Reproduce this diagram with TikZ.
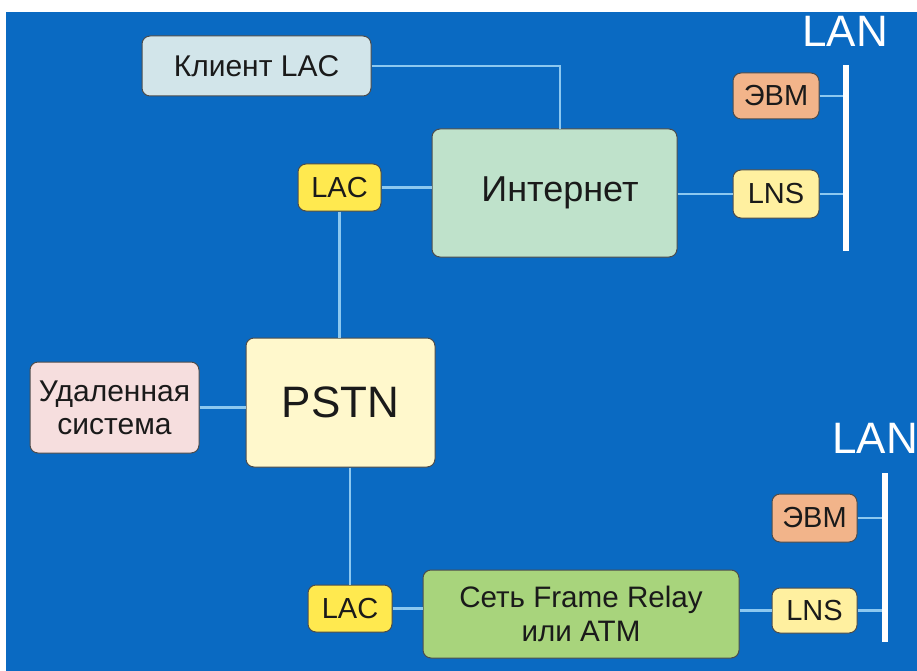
\documentclass[tikz,border=0pt]{standalone}
\usepackage{fontspec}
\setmainfont{Liberation Sans}
\definecolor{bgblue}{HTML}{0A6AC2}
\definecolor{wire}{HTML}{8CC8F0}
\definecolor{cKlient}{HTML}{D2E5EA}
\definecolor{cLAC}{HTML}{FFE94F}
\definecolor{cInet}{HTML}{BFE2CB}
\definecolor{cEVM}{HTML}{F2B48A}
\definecolor{cLNS}{HTML}{FFF0A0}
\definecolor{cUdal}{HTML}{F6DEDE}
\definecolor{cPSTN}{HTML}{FFF8CC}
\definecolor{cFR}{HTML}{A8D47C}
\definecolor{txt}{HTML}{1A1A1A}
\begin{document}
\begin{tikzpicture}[x=1pt,y=-1pt,
  box/.style={draw=black!70,line width=1pt,rounded corners=8pt,text=txt,align=center,inner sep=0pt,
     font=\fontsize{29}{33}\selectfont},
  wirel/.style={draw=wire,line width=2.5pt},
  lanbar/.style={draw=white,line width=6pt},
  lantxt/.style={text=white,font=\fontsize{44}{44}\selectfont,inner sep=0pt}]
\useasboundingbox (0,0) rectangle (917,671);
\fill[white] (0,0) rectangle (917,671);
\fill[bgblue] (6,12) rectangle (917,671);

\node[box,fill=cKlient,minimum width=229pt,minimum height=60pt,font=\fontsize{30}{30}\selectfont] (klient) at (256.5,66) {Клиент LAC};
\node[box,fill=cLAC,minimum width=83pt,minimum height=47pt] (lac1) at (339.5,187.5) {LAC};
\node[box,fill=cInet,minimum width=245pt,minimum height=128pt,font=\fontsize{36}{36}\selectfont] (inet) at (554.5,193) {\hspace*{11pt}Интернет};
\node[box,fill=cEVM,minimum width=86pt,minimum height=46pt] (evm1) at (776,96) {ЭВМ};
\node[box,fill=cLNS,minimum width=86pt,minimum height=48pt] (lns1) at (776,194) {LNS};
\node[box,fill=cUdal,minimum width=169pt,minimum height=91pt,font=\fontsize{30}{33}\selectfont] (udal) at (114.5,407.5) {Удаленная\\система};
\node[box,fill=cPSTN,minimum width=189pt,minimum height=129pt,font=\fontsize{44}{44}\selectfont] (pstn) at (340.5,402.5) {PSTN};
\node[box,fill=cLAC,minimum width=84pt,minimum height=47pt] (lac2) at (350,608.5) {LAC};
\node[box,fill=cFR,minimum width=316pt,minimum height=88pt,font=\fontsize{29.6}{34}\selectfont] (fr) at (581,614) {Сеть Frame Relay\\или ATM};
\node[box,fill=cEVM,minimum width=85pt,minimum height=48pt] (evm2) at (814.5,518) {ЭВМ};
\node[box,fill=cLNS,minimum width=85pt,minimum height=45pt] (lns2) at (814.5,610.5) {LNS};

\node[lantxt] (lan1) at (845,31) {LAN};
\node[lantxt] (lan2) at (875,438) {LAN};

\coordinate (lan1top) at (846,65);
\coordinate (lan1bot) at (846,251);
\coordinate (lan2top) at (885,473);
\coordinate (lan2bot) at (885,642);
\coordinate (inettap) at (560,129);

\draw[wirel] (klient.east) -| (inettap);
\draw[wirel] (lac1.east) -- (lac1.east -| inet.west);
\draw[wirel] (lac1.south) -- (lac1.south |- pstn.north);
\draw[wirel] (inet.east |- lns1.west) -- (lns1.west);
\draw[wirel] (evm1.east) -- (evm1.east -| lan1top);
\draw[wirel] (lns1.east) -- (lns1.east -| lan1top);
\draw[wirel] (udal.east) -- (udal.east -| pstn.west);
\draw[wirel] (lac2.north |- pstn.south) -- (lac2.north);
\draw[wirel] (lac2.east) -- (lac2.east -| fr.west);
\draw[wirel] (fr.east |- lns2.west) -- (lns2.west);
\draw[wirel] (evm2.east) -- (evm2.east -| lan2top);
\draw[wirel] (lns2.east) -- (lns2.east -| lan2top);

\draw[lanbar] (lan1top) -- (lan1bot);
\draw[lanbar] (lan2top) -- (lan2bot);
\end{tikzpicture}
\end{document}
